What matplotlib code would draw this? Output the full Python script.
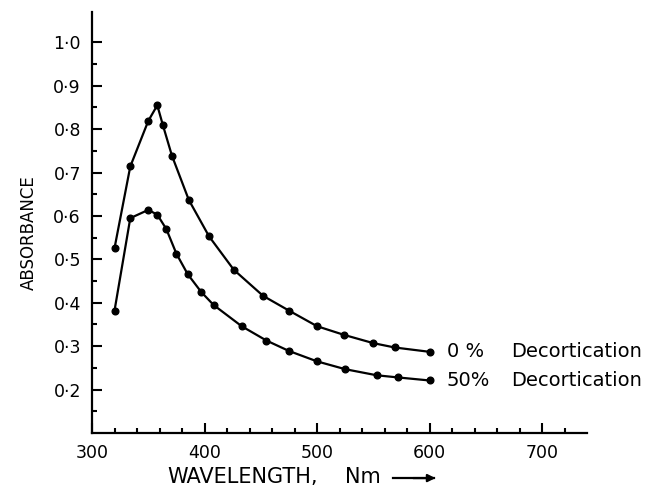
import matplotlib
matplotlib.use("Agg")
import matplotlib.pyplot as plt
from matplotlib.ticker import FixedLocator

# absorbance, 0 % decortication
wl_0 = [320, 334, 350, 358, 363, 371, 386, 404, 426, 452, 475, 500, 524, 550, 569, 600]
abs_0 = [0.526, 0.714, 0.819, 0.855, 0.809, 0.739, 0.637, 0.553, 0.476, 0.416,
         0.382, 0.346, 0.326, 0.307, 0.297, 0.287]

# 50 % decortication
wl_50 = [320, 334, 350, 358, 366, 375, 385, 397, 408, 433, 455, 475, 500, 525, 553, 572, 600]
abs_50 = [0.382, 0.595, 0.614, 0.603, 0.570, 0.513, 0.466, 0.425, 0.395, 0.346,
          0.313, 0.289, 0.265, 0.247, 0.233, 0.228, 0.221]

percents = ["0 %", "50%"]
series_name = "Decortication"

x_major = [300, 400, 500, 600, 700]
y_major = [0.2, 0.3, 0.4, 0.5, 0.6, 0.7, 0.8, 0.9, 1.0]
y_ticklabels = ["0·2", "0·3", "0·4", "0·5", "0·6", "0·7", "0·8", "0·9", "1·0"]

plt.rcParams['font.family'] = ['DejaVu Sans']

fig = plt.figure(figsize=(6.62, 4.98), dpi=100)
ax = fig.add_axes([0.139, 0.1305, 0.748, 0.8455])

for xs, ys in [(wl_0, abs_0), (wl_50, abs_50)]:
    ax.plot(xs, ys, color="black", lw=1.6, marker="o", ms=4.8, clip_on=False)

for xs, ys, pct in [(wl_0, abs_0, percents[0]), (wl_50, abs_50, percents[1])]:
    ax.text(xs[-1] + 15, ys[-1], pct, fontsize=14, va="center", ha="left")
    ax.text(xs[-1] + 72, ys[-1], series_name, fontsize=14, va="center", ha="left")

ax.set_xlim(300, 740)
ax.set_ylim(0.1, 1.07)

ax.spines["top"].set_visible(False)
ax.spines["right"].set_visible(False)
ax.spines["left"].set_linewidth(1.6)
ax.spines["bottom"].set_linewidth(1.6)

ax.xaxis.set_major_locator(FixedLocator(x_major))
ax.xaxis.set_minor_locator(FixedLocator([v for v in range(320, 740, 20) if v % 100 != 0]))
ax.yaxis.set_major_locator(FixedLocator(y_major))
ax.yaxis.set_minor_locator(FixedLocator([0.15 + 0.1 * i for i in range(9)]))
ax.set_yticklabels(y_ticklabels)

ax.tick_params(axis="both", which="major", direction="in", length=7, width=1.5,
               labelsize=12.5, pad=8)
ax.tick_params(axis="both", which="minor", direction="in", length=3.5, width=1.5)

ax.set_ylabel("ABSORBANCE", fontsize=12)
ax.yaxis.set_label_coords(-0.109, 0.475)

fig.text(0.252, 0.042, "WAVELENGTH,", fontsize=15, ha="left", va="center")
fig.text(0.521, 0.042, "Nm", fontsize=15, ha="left", va="center")
fig.add_artist(plt.Line2D([0.593, 0.655], [0.040, 0.040], color="black", lw=1.6))
ax.annotate("", xy=(0.662, 0.040), xytext=(0.62, 0.040), xycoords="figure fraction",
            arrowprops=dict(arrowstyle="-|>", color="black", lw=1.6, mutation_scale=11))

fig.savefig("out.png", dpi=100)
